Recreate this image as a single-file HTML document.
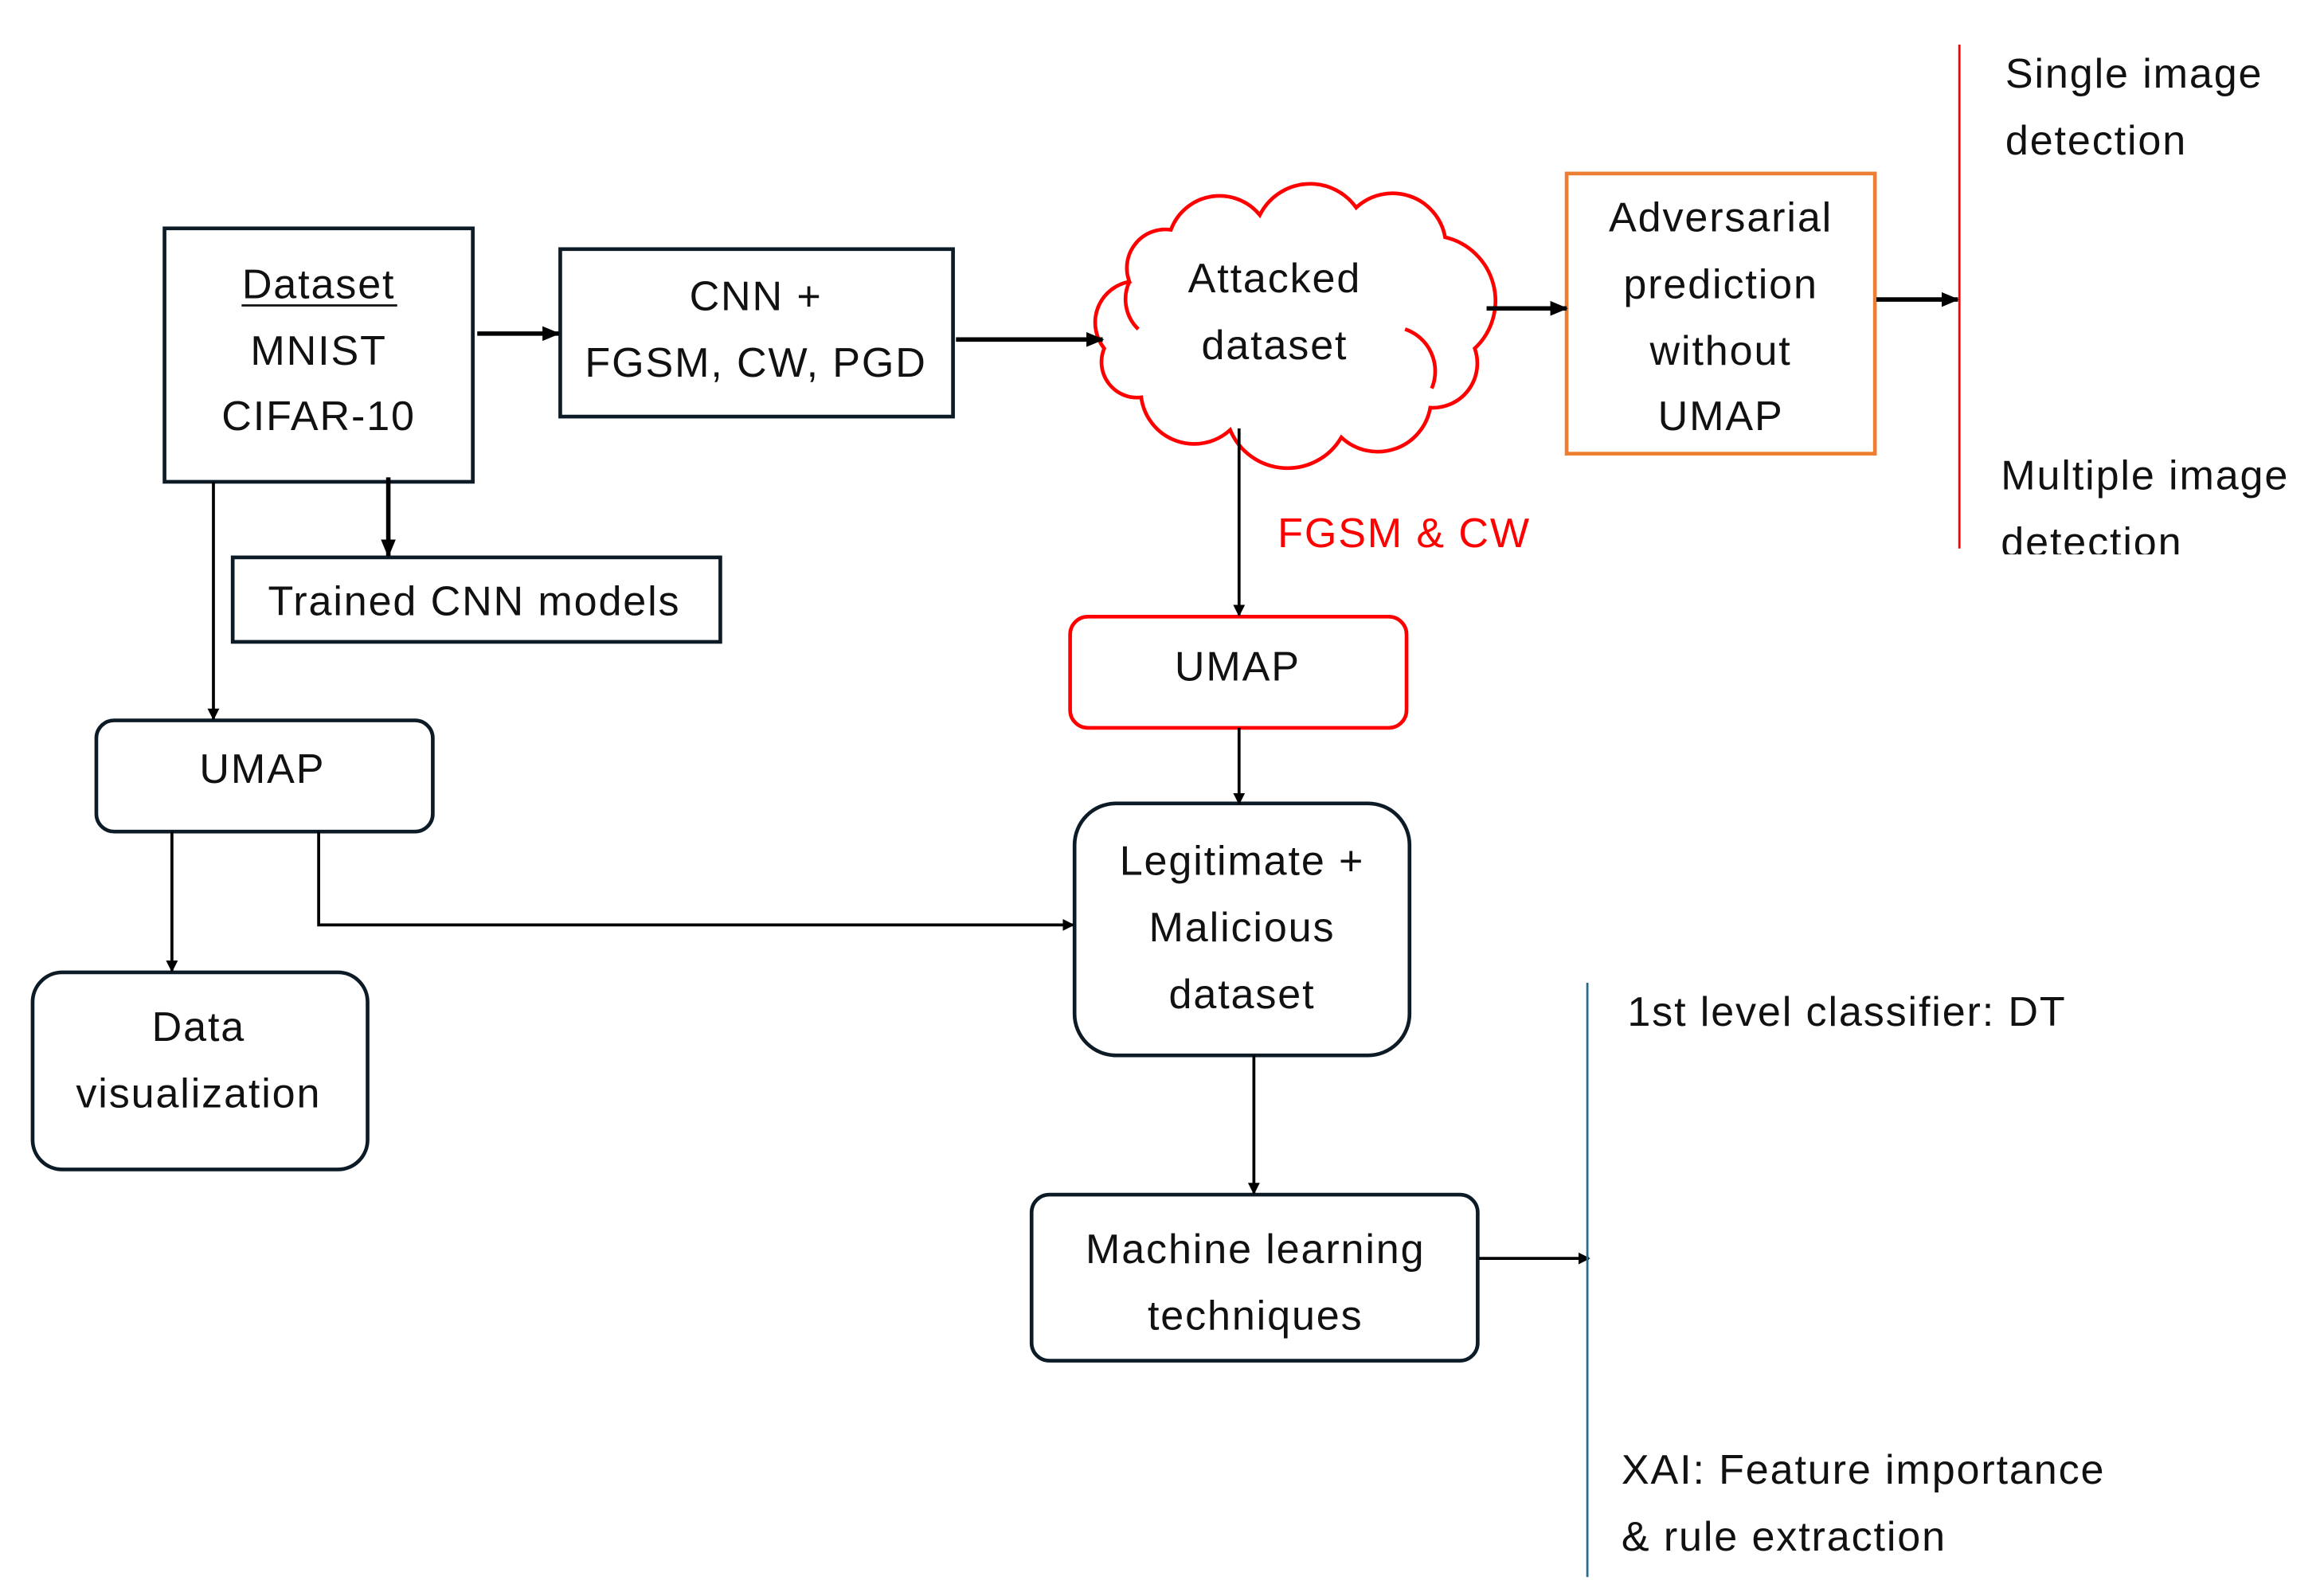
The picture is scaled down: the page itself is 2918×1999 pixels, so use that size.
<!DOCTYPE html>
<html><head><meta charset="utf-8"><style>
html,body{margin:0;padding:0;background:#fff;}
svg{display:block;}
text{font-family:"Liberation Sans",sans-serif;font-size:28px;letter-spacing:1px;fill:#111;dominant-baseline:central;}
</style></head><body>
<svg width="2918" height="1999" viewBox="0 0 1568 1074" xmlns="http://www.w3.org/2000/svg">
<defs>
<marker id="a" markerWidth="8" markerHeight="8" refX="7" refY="4" orient="auto" markerUnits="userSpaceOnUse" viewBox="0 0 8 8"><path d="M0,0 L8,4 L0,8 Z" fill="#000"/></marker>
<marker id="b" markerWidth="12" markerHeight="12" refX="11" refY="6" orient="auto" markerUnits="userSpaceOnUse" viewBox="0 0 12 12"><path d="M0,1 L12,6 L0,11 Z" fill="#000"/></marker>
</defs>
<g fill="none" stroke="#0d1b26" stroke-width="2.5">
<rect x="111" y="154" width="208" height="171"/>
<rect x="378" y="168" width="265" height="113"/>
<rect x="157" y="376" width="329" height="57"/>
<rect x="65" y="486" width="227" height="75" rx="12"/>
<rect x="22" y="656" width="226" height="133" rx="20"/>
<rect x="725" y="542" width="226" height="170" rx="28"/>
<rect x="696" y="806" width="301" height="112" rx="12"/>
</g>
<rect x="1057" y="117" width="208" height="189" fill="none" stroke="#ed7d31" stroke-width="2.5"/>
<rect x="722" y="416" width="227" height="75" rx="12" fill="none" stroke="#ff0000" stroke-width="2.5"/>
<path d="M762,190 A26,26 0 0 1 790,155 A35,35 0 0 1 850,145 A38,38 0 0 1 915,140 A36,36 0 0 1 975,160 A44,44 0 0 1 995,235 A30,30 0 0 1 965,275 A36,36 0 0 1 905,295 A42,42 0 0 1 830,290 A36,36 0 0 1 770,268 A24,24 0 0 1 745,235 A28,28 0 0 1 762,190 Z" fill="none" stroke="#ff0000" stroke-width="2.5"/>
<path d="M762,190 A28,28 0 0 0 768,222 M948,222 A30,30 0 0 1 966,262" fill="none" stroke="#ff0000" stroke-width="2.5"/>
<g stroke="#000" fill="none">
<line x1="322" y1="225" x2="377" y2="225" stroke-width="3" marker-end="url(#b)"/>
<line x1="645" y1="229" x2="744" y2="229" stroke-width="3" marker-end="url(#b)"/>
<line x1="1003" y1="208" x2="1057" y2="208" stroke-width="3" marker-end="url(#b)"/>
<line x1="1266" y1="202" x2="1321" y2="202" stroke-width="3" marker-end="url(#b)"/>
<line x1="262" y1="322" x2="262" y2="375" stroke-width="3" marker-end="url(#b)"/>
<line x1="144" y1="325" x2="144" y2="485" stroke-width="2" marker-end="url(#a)"/>
<line x1="116" y1="561" x2="116" y2="655" stroke-width="2" marker-end="url(#a)"/>
<polyline points="215,561 215,624 724,624" stroke-width="2" marker-end="url(#a)"/>
<line x1="836" y1="289" x2="836" y2="415" stroke-width="2" marker-end="url(#a)"/>
<line x1="836" y1="491" x2="836" y2="542" stroke-width="2" marker-end="url(#a)"/>
<line x1="846" y1="712" x2="846" y2="805" stroke-width="2" marker-end="url(#a)"/>
<line x1="998" y1="849" x2="1072" y2="849" stroke-width="2" marker-end="url(#a)"/>
</g>
<line x1="1322" y1="30" x2="1322" y2="370" stroke="#ff0000" stroke-width="1.5"/>
<line x1="1071" y1="663" x2="1071" y2="1064" stroke="#2e6b8a" stroke-width="1.5"/>
<g text-anchor="middle">
<text x="215" y="192">Dataset</text>
<line x1="163" y1="206" x2="268" y2="206" stroke="#111" stroke-width="1.5"/>
<text x="215" y="237">MNIST</text>
<text x="215" y="281">CIFAR-10</text>
<text x="510" y="200">CNN +</text>
<text x="510" y="245">FGSM, CW, PGD</text>
<text x="860" y="188">Attacked</text>
<text x="860" y="233">dataset</text>
<text x="1161" y="147">Adversarial</text>
<text x="1161" y="192">prediction</text>
<text x="1161" y="237">without</text>
<text x="1161" y="281">UMAP</text>
<text x="320" y="406">Trained CNN models</text>
<text x="177" y="519">UMAP</text>
<text x="134" y="693">Data</text>
<text x="134" y="738">visualization</text>
<text x="835" y="450">UMAP</text>
<text x="838" y="581">Legitimate +</text>
<text x="838" y="626">Malicious</text>
<text x="838" y="671">dataset</text>
<text x="847" y="843">Machine learning</text>
<text x="847" y="888">techniques</text>
</g>
<text x="862" y="360" style="fill:#ff0000">FGSM &amp; CW</text>
<text x="1353" y="50">Single image</text>
<text x="1353" y="95">detection</text>
<text x="1350" y="321">Multiple image</text>
<text x="1350" y="366">detection</text>
<rect x="1330" y="374" width="238" height="20" fill="#fff"/>
<text x="1098" y="683">1st level classifier: DT</text>
<text x="1094" y="992">XAI: Feature importance</text>
<text x="1094" y="1037">&amp; rule extraction</text>
</svg>
</body></html>
